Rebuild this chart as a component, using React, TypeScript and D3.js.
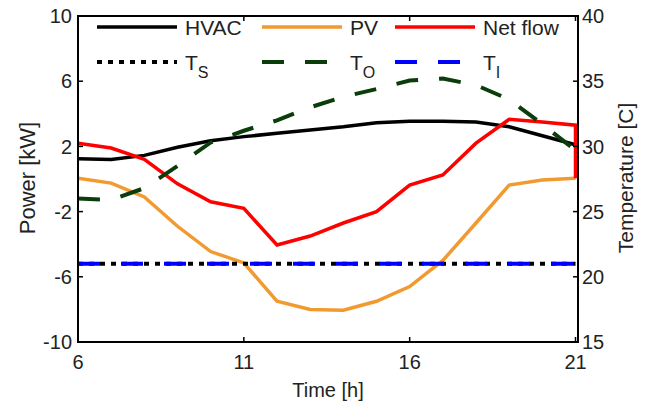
import React from "react";
import * as d3 from "d3";

const hours = [6, 7, 8, 9, 10, 11, 12, 13, 14, 15, 16, 17, 18, 19, 20, 21];
const hvac = [1.25, 1.2, 1.45, 1.95, 2.35, 2.6, 2.8, 3.0, 3.2, 3.45, 3.55, 3.55, 3.5, 3.2, 2.65, 2.1];
const pv = [0.05, -0.25, -1.1, -2.9, -4.45, -5.15, -7.5, -8.0, -8.05, -7.5, -6.6, -5.0, -2.7, -0.37, -0.06, 0.05];
const netHours = [6, 7, 8, 9, 10, 11, 12, 13, 14, 15, 16, 17, 18, 19, 20, 21, 21];
const netFlow = [2.2, 1.9, 1.2, -0.3, -1.4, -1.8, -4.05, -3.5, -2.7, -2.0, -0.37, 0.25, 2.2, 3.66, 3.5, 3.3, 0.05];
const tS = [21, 21, 21, 21, 21, 21, 21, 21, 21, 21, 21, 21, 21, 21, 21, 21];
const tO = [26.0, 25.9, 26.8, 28.5, 30.3, 31.2, 32.0, 33.0, 33.8, 34.4, 35.05, 35.2, 34.7, 33.6, 31.7, 29.7];
const tI = [21, 21, 21, 21, 21, 21, 21, 21, 21, 21, 21, 21, 21, 21, 21, 21];

const xTicks = [6, 11, 16, 21];
const yLeftTicks = [-10, -6, -2, 2, 6, 10];
const yRightTicks = [15, 20, 25, 30, 35, 40];

const W = 651, H = 406;
const L = 78, R = 575.5, T = 16, B = 342;
const RF = 578; // right frame line
const FONT = "'Liberation Sans', Arial, sans-serif";
const TXT = "#222";

export default function App() {
  const x = d3.scaleLinear().domain([6, 21]).range([L, R]);
  const yL = d3.scaleLinear().domain([-10, 10]).range([B, T]);
  const yR = d3.scaleLinear().domain([15, 40]).range([B, T]);

  const lineL = (xs: number[], ys: number[]) =>
    d3.line<number>().x((_, i) => x(xs[i])).y((d) => yL(d))(ys) || "";
  const lineR = (xs: number[], ys: number[]) =>
    d3.line<number>().x((_, i) => x(xs[i])).y((d) => yR(d))(ys) || "";

  const series = [
    { name: "HVAC", d: lineL(hours, hvac), color: "#000", w: 3.5, dash: "none" },
    { name: "PV", d: lineL(hours, pv), color: "#F09A30", w: 3.5, dash: "none" },
    { name: "Net flow", d: lineL(netHours, netFlow), color: "#FF0000", w: 3.5, dash: "none" },
    { name: "TS", d: lineR(hours, tS), color: "#000", w: 4, dash: "5,6" },
    { name: "TO", d: lineR(hours, tO), color: "#0B3D0B", w: 4, dash: "22,21" },
    { name: "TI", d: lineR(hours, tI), color: "#0000FF", w: 4, dash: "22,21" },
  ];

  const legendCols = [97, 262, 395];
  const legendTextX = [185, 350, 483];
  const row1 = 27, row2 = 62;

  return (
    <svg width={W} height={H} style={{ position: "absolute", left: 0, top: 0, background: "#fff" }}>
      <defs>
        <clipPath id="plot">
          <rect x={L} y={T} width={RF - L} height={B - T} />
        </clipPath>
      </defs>
      <rect x={0} y={0} width={W} height={H} fill="#fff" />
      <g clipPath="url(#plot)" fill="none">
        {series.map((s) => (
          <path key={s.name} d={s.d} stroke={s.color} strokeWidth={s.w}
            strokeDasharray={s.dash} strokeLinejoin="miter" strokeLinecap="butt" />
        ))}
      </g>
      {/* frame */}
      <rect x={L} y={T} width={RF - L} height={B - T} fill="none" stroke="#000" strokeWidth={2} />
      {/* x ticks */}
      {xTicks.map((t) => (
        <g key={"x" + t}>
          <line x1={x(t)} x2={x(t)} y1={B} y2={B - 5} stroke="#000" strokeWidth={1.5} />
          <line x1={x(t)} x2={x(t)} y1={T} y2={T + 5} stroke="#000" strokeWidth={1.5} />
          <text x={x(t)} y={369} textAnchor="middle" fontSize={20} fontFamily={FONT} fill={TXT}>{t}</text>
        </g>
      ))}
      {yLeftTicks.map((t) => (
        <g key={"yl" + t}>
          <line x1={L} x2={L + 5} y1={yL(t)} y2={yL(t)} stroke="#000" strokeWidth={1.5} />
          <text x={72} y={yL(t)} dy="0.36em" textAnchor="end" fontSize={20} fontFamily={FONT} fill={TXT}>{t}</text>
        </g>
      ))}
      {yRightTicks.map((t) => (
        <g key={"yr" + t}>
          <line x1={RF} x2={RF - 5} y1={yR(t)} y2={yR(t)} stroke="#000" strokeWidth={1.5} />
          <text x={582} y={yR(t)} dy="0.36em" textAnchor="start" fontSize={20} fontFamily={FONT} fill={TXT}>{t}</text>
        </g>
      ))}
      {/* axis labels */}
      <text x={(L + RF) / 2} y={397} textAnchor="middle" fontSize={20} fontFamily={FONT} fill={TXT}>Time [h]</text>
      <text transform={`translate(35,178) rotate(-90)`} textAnchor="middle" fontSize={22} fontFamily={FONT} fill={TXT}>Power [kW]</text>
      <text transform={`translate(633,178) rotate(-90)`} textAnchor="middle" fontSize={21} fontFamily={FONT} fill={TXT}>Temperature [C]</text>
      {/* legend */}
      {series.map((s, i) => {
        const col = i % 3;
        const y = i < 3 ? row1 : row2;
        const x0 = legendCols[col];
        const tx = legendTextX[col];
        const len = col === 2 && i >= 3 ? 72 : 80;
        return (
          <g key={"lg" + s.name}>
            <line x1={x0} x2={x0 + len} y1={y} y2={y} stroke={s.color} strokeWidth={s.w}
              strokeDasharray={s.dash} />
            {i < 3 ? (
              <text x={tx} y={y} dy="0.36em" fontSize={21} fontFamily={FONT} fill={TXT}>{s.name}</text>
            ) : (
              <text x={tx} y={y} dy="0.36em" fontSize={21} fontFamily={FONT} fill={TXT}>
                T<tspan fontSize={16} dy="8">{s.name.slice(1)}</tspan>
              </text>
            )}
          </g>
        );
      })}
    </svg>
  );
}
